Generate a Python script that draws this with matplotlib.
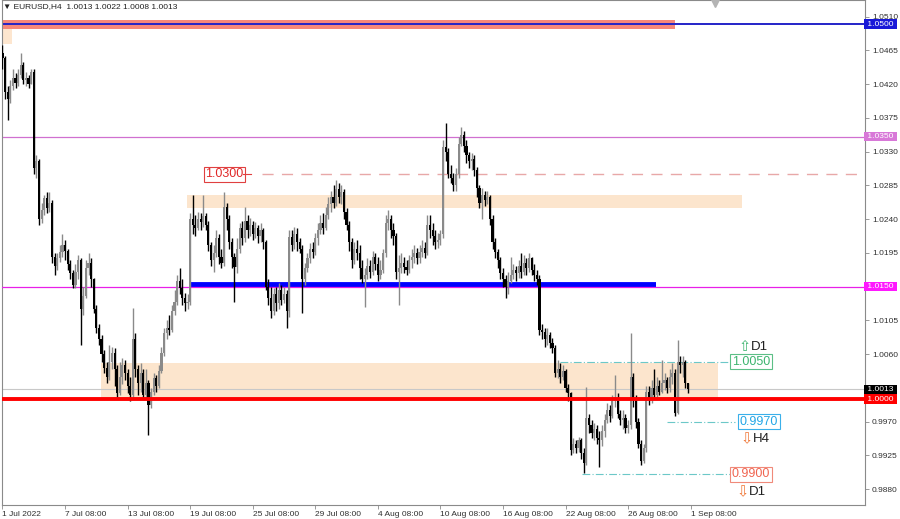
import numpy as np
import matplotlib
matplotlib.use("Agg")
import matplotlib.pyplot as plt
import matplotlib.transforms as mtransforms

plt.rcParams['font.family'] = ['Liberation Sans', 'DejaVu Sans']

# ---- data (EURUSD H4) ----
symbol_title = "EURUSD,H4  1.0013 1.0022 1.0008 1.0013"
first_open = 1.0462
closes = [
    1.0455, 1.0410, 1.0400, 1.0418, 1.0428, 1.0422, 1.0432, 1.0445, 1.0425, 1.0428, 1.0420, 1.0436,
    1.0308, 1.0318, 1.0240, 1.0252, 1.0268, 1.0255, 1.0262, 1.0190, 1.0178, 1.0188, 1.0196, 1.0206,
    1.0198, 1.0180, 1.0168, 1.0152, 1.0170, 1.0185, 1.0120, 1.0138, 1.0175, 1.0182, 1.0160, 1.0120,
    1.0095, 1.0080, 1.0060, 1.0042, 1.0030, 1.0050, 1.0062, 1.0040, 1.0008, 1.0030, 1.0045, 1.0035,
    1.0018, 1.0005, 1.0080, 1.0040, 1.0022, 1.0035, 1.0005, 1.0022, 0.9992, 1.0010, 1.0028, 1.0018,
    1.0038, 1.0062, 1.0088, 1.0095, 1.0092, 1.0118, 1.0130, 1.0158, 1.0148, 1.0135, 1.0128, 1.0130,
    1.0240, 1.0232, 1.0228, 1.0240, 1.0236, 1.0244, 1.0232, 1.0205, 1.0185, 1.0195, 1.0215, 1.0190,
    1.0182, 1.0256, 1.0240, 1.0210, 1.0190, 1.0176, 1.0200, 1.0228, 1.0215, 1.0238, 1.0225, 1.0232,
    1.0220, 1.0228, 1.0218, 1.0225, 1.0210, 1.0150, 1.0135, 1.0118, 1.0140, 1.0128, 1.0145, 1.0132,
    1.0140, 1.0118, 1.0216, 1.0205, 1.0220, 1.0210, 1.0200, 1.0160, 1.0175, 1.0188, 1.0200, 1.0196,
    1.0215, 1.0225, 1.0235, 1.0228, 1.0245, 1.0260, 1.0270, 1.0262, 1.0280, 1.0270, 1.0276, 1.0250,
    1.0232, 1.0210, 1.0185, 1.0200, 1.0195, 1.0175, 1.0160, 1.0165, 1.0178, 1.0170, 1.0190, 1.0180,
    1.0165, 1.0172, 1.0195, 1.0235, 1.0240, 1.0225, 1.0218, 1.0170, 1.0175, 1.0182, 1.0176, 1.0172,
    1.0185, 1.0190, 1.0195, 1.0188, 1.0196, 1.0202, 1.0195, 1.0232, 1.0225, 1.0218, 1.0210, 1.0212,
    1.0220, 1.0336, 1.0330, 1.0300, 1.0295, 1.0285, 1.0300, 1.0340, 1.0352, 1.0338, 1.0325, 1.0318,
    1.0320, 1.0305, 1.0282, 1.0262, 1.0272, 1.0265, 1.0270, 1.0240, 1.0210, 1.0196, 1.0185, 1.0168,
    1.0160, 1.0150, 1.0158, 1.0165, 1.0172, 1.0168, 1.0178, 1.0170, 1.0182, 1.0175, 1.0188, 1.0172,
    1.0165, 1.0160, 1.0092, 1.0090, 1.0080, 1.0085, 1.0075, 1.0068, 1.0035, 1.0040, 1.0030, 1.0038,
    1.0015, 1.0008, 0.9932, 0.9940, 0.9935, 0.9945, 0.9928, 0.9915, 0.9975, 0.9965, 0.9955, 0.9960,
    0.9948, 0.9945, 0.9958, 0.9972, 0.9985, 0.9978, 0.9998, 1.0002, 0.9980, 0.9972, 0.9975, 0.9962,
    0.9965, 1.0030, 1.0000, 0.9970, 0.9940, 0.9918, 0.9935, 1.0010, 1.0000, 1.0015, 1.0005, 1.0018,
    1.0010, 1.0022, 1.0025, 1.0015, 1.0030, 1.0035, 0.9982, 1.0050, 1.0045, 1.0050, 1.0022, 1.0013,
]
highs = [
    1.0472, 1.0458, 1.0418, 1.0425, 1.0440, 1.0435, 1.0440, 1.0462, 1.0450, 1.0436, 1.0432, 1.0440,
    1.0440, 1.0325, 1.0320, 1.0262, 1.0272, 1.0276, 1.0276, 1.0265, 1.0195, 1.0195, 1.0205, 1.0220,
    1.0212, 1.0200, 1.0185, 1.0172, 1.0180, 1.0192, 1.0188, 1.0150, 1.0185, 1.0195, 1.0188, 1.0162,
    1.0125, 1.0100, 1.0085, 1.0065, 1.0050, 1.0072, 1.0070, 1.0068, 1.0045, 1.0050, 1.0055, 1.0052,
    1.0040, 1.0030, 1.0121, 1.0088, 1.0045, 1.0048, 1.0040, 1.0040, 1.0025, 1.0015, 1.0035, 1.0032,
    1.0045, 1.0070, 1.0095, 1.0105, 1.0112, 1.0125, 1.0145, 1.0165, 1.0175, 1.0160, 1.0142, 1.0140,
    1.0248, 1.0272, 1.0245, 1.0250, 1.0248, 1.0272, 1.0248, 1.0238, 1.0210, 1.0205, 1.0225, 1.0220,
    1.0200, 1.0276, 1.0262, 1.0245, 1.0215, 1.0195, 1.0215, 1.0235, 1.0238, 1.0256, 1.0245, 1.0242,
    1.0238, 1.0236, 1.0232, 1.0235, 1.0228, 1.0212, 1.0160, 1.0150, 1.0148, 1.0150, 1.0155, 1.0152,
    1.0150, 1.0145, 1.0225, 1.0226, 1.0230, 1.0228, 1.0215, 1.0205, 1.0182, 1.0195, 1.0208, 1.0210,
    1.0222, 1.0235, 1.0245, 1.0248, 1.0256, 1.0270, 1.0278, 1.0285, 1.0292, 1.0288, 1.0285, 1.0280,
    1.0255, 1.0238, 1.0215, 1.0210, 1.0212, 1.0205, 1.0185, 1.0175, 1.0188, 1.0185, 1.0198, 1.0195,
    1.0190, 1.0185, 1.0200, 1.0245, 1.0252, 1.0245, 1.0235, 1.0222, 1.0192, 1.0195, 1.0190, 1.0186,
    1.0192, 1.0200, 1.0205, 1.0202, 1.0205, 1.0212, 1.0210, 1.0245, 1.0245, 1.0235, 1.0225, 1.0222,
    1.0225, 1.0345, 1.0368, 1.0335, 1.0312, 1.0302, 1.0308, 1.0350, 1.0363, 1.0358, 1.0345, 1.0330,
    1.0328, 1.0325, 1.0310, 1.0285, 1.0282, 1.0278, 1.0278, 1.0272, 1.0245, 1.0215, 1.0200, 1.0190,
    1.0175, 1.0165, 1.0170, 1.0190, 1.0180, 1.0178, 1.0185, 1.0195, 1.0192, 1.0188, 1.0195, 1.0190,
    1.0180, 1.0172, 1.0165, 1.0100, 1.0095, 1.0095, 1.0090, 1.0082, 1.0072, 1.0052, 1.0048, 1.0045,
    1.0040, 1.0020, 1.0010, 0.9948, 0.9945, 0.9950, 0.9948, 0.9935, 1.0016, 0.9980, 0.9972, 0.9968,
    0.9965, 0.9958, 0.9965, 0.9980, 0.9995, 0.9992, 1.0005, 1.0032, 1.0008, 0.9985, 0.9985, 0.9980,
    0.9972, 1.0088, 1.0035, 1.0005, 0.9975, 0.9945, 0.9940, 1.0018, 1.0018, 1.0025, 1.0040, 1.0030,
    1.0025, 1.0052, 1.0035, 1.0030, 1.0040, 1.0048, 1.0040, 1.0079, 1.0058, 1.0058, 1.0052, 1.0022,
]
lows = [
    1.0440, 1.0400, 1.0372, 1.0395, 1.0412, 1.0415, 1.0418, 1.0428, 1.0420, 1.0418, 1.0415, 1.0420,
    1.0300, 1.0295, 1.0232, 1.0235, 1.0245, 1.0248, 1.0250, 1.0182, 1.0165, 1.0172, 1.0183, 1.0190,
    1.0185, 1.0172, 1.0160, 1.0148, 1.0148, 1.0160, 1.0072, 1.0112, 1.0135, 1.0165, 1.0150, 1.0115,
    1.0088, 1.0072, 1.0050, 1.0035, 1.0022, 1.0025, 1.0040, 1.0018, 1.0000, 1.0005, 1.0020, 1.0025,
    1.0008, 0.9998, 1.0002, 1.0030, 1.0005, 1.0010, 1.0000, 1.0002, 0.9952, 0.9988, 1.0005, 1.0010,
    1.0015, 1.0035, 1.0058, 1.0080, 1.0085, 1.0090, 1.0112, 1.0125, 1.0140, 1.0125, 1.0118, 1.0120,
    1.0125, 1.0220, 1.0218, 1.0225, 1.0225, 1.0230, 1.0225, 1.0198, 1.0178, 1.0170, 1.0190, 1.0180,
    1.0175, 1.0178, 1.0225, 1.0200, 1.0175, 1.0130, 1.0168, 1.0195, 1.0205, 1.0210, 1.0215, 1.0218,
    1.0212, 1.0215, 1.0208, 1.0210, 1.0200, 1.0145, 1.0125, 1.0108, 1.0112, 1.0118, 1.0120, 1.0125,
    1.0128, 1.0095, 1.0110, 1.0198, 1.0200, 1.0198, 1.0195, 1.0115, 1.0152, 1.0170, 1.0182, 1.0188,
    1.0192, 1.0205, 1.0220, 1.0220, 1.0225, 1.0240, 1.0250, 1.0255, 1.0258, 1.0262, 1.0260, 1.0240,
    1.0225, 1.0198, 1.0175, 1.0180, 1.0185, 1.0160, 1.0155, 1.0123, 1.0160, 1.0162, 1.0165, 1.0172,
    1.0158, 1.0160, 1.0168, 1.0190, 1.0225, 1.0215, 1.0205, 1.0160, 1.0125, 1.0168, 1.0168, 1.0165,
    1.0168, 1.0175, 1.0182, 1.0180, 1.0182, 1.0190, 1.0188, 1.0192, 1.0215, 1.0205, 1.0200, 1.0202,
    1.0205, 1.0215, 1.0318, 1.0295, 1.0288, 1.0278, 1.0278, 1.0295, 1.0338, 1.0330, 1.0315, 1.0308,
    1.0305, 1.0298, 1.0270, 1.0255, 1.0240, 1.0258, 1.0260, 1.0232, 1.0200, 1.0188, 1.0175, 1.0160,
    1.0150, 1.0135, 1.0140, 1.0155, 1.0160, 1.0158, 1.0162, 1.0162, 1.0165, 1.0165, 1.0170, 1.0165,
    1.0158, 1.0152, 1.0085, 1.0080, 1.0070, 1.0072, 1.0068, 1.0062, 1.0030, 1.0028, 1.0022, 1.0025,
    1.0010, 0.9998, 0.9925, 0.9928, 0.9928, 0.9930, 0.9920, 0.9901, 0.9912, 0.9955, 0.9948, 0.9945,
    0.9940, 0.9909, 0.9938, 0.9950, 0.9968, 0.9970, 0.9975, 0.9990, 0.9975, 0.9965, 0.9960, 0.9955,
    0.9955, 0.9960, 0.9990, 0.9962, 0.9935, 0.9912, 0.9915, 0.9930, 0.9992, 0.9995, 1.0000, 1.0000,
    1.0005, 1.0008, 1.0012, 1.0008, 1.0010, 1.0020, 0.9978, 0.9980, 1.0035, 1.0030, 1.0015, 1.0008,
]

date_labels = ["1 Jul 2022", "7 Jul 08:00", "13 Jul 08:00", "19 Jul 08:00", "25 Jul 08:00",
               "29 Jul 08:00", "4 Aug 08:00", "10 Aug 08:00", "16 Aug 08:00", "22 Aug 08:00",
               "26 Aug 08:00", "1 Sep 08:00"]
date_label_bars = [0, 24, 48, 72, 96, 120, 144, 168, 192, 216, 240, 264]
price_ticks = [1.0510, 1.0465, 1.0420, 1.0375, 1.0330, 1.0285, 1.0240, 1.0195,
               1.0105, 1.0060, 0.9970, 0.9925, 0.9880]

# horizontal levels and their axis tags
level_tags = [(1.0500, "#1818d8"), (1.0350, "#d878d8"), (1.0150, "#ff18ff"),
              (1.0013, "#000000"), (1.0000, "#ff0000")]

# ---- figure ----
W, H = 900, 519
fig = plt.figure(figsize=(W / 100, H / 100), dpi=100)
ax = fig.add_axes([2 / W, 14 / H, 863 / W, 505 / H])

BAR_PX = 2.608


def px(x):
    """chart pixel column -> bar index"""
    return (x - 2) / BAR_PX


y_top = 1.05323
y_bot = y_top - 505 / 7497
ax.set_xlim(px(1.5), px(865))
ax.set_ylim(y_bot, y_top)

# zones / bands
ax.fill_between([px(2), px(675)], 1.0493, 1.0505, color="#f6877a", lw=0, zorder=1)
ax.fill_between([px(2), px(12)], 1.0473, 1.0493, color="#fde6cf", lw=0, zorder=1)
ax.fill_between([px(187), px(742)], 1.0255, 1.0272, color="#fce5cd", lw=0, zorder=1)
ax.fill_between([px(101), px(718)], 1.0000, 1.0048, color="#fce5cd", lw=0, zorder=1)

# level lines
ax.axhline(1.0500, color="#2424c8", lw=1.4, zorder=2)
ax.axhline(1.0350, color="#d070d0", lw=0.9, zorder=2)
ax.axhline(1.0150, color="#e820e8", lw=0.9, zorder=4)
ax.axhline(1.0013, color="#c8c8c8", lw=0.8, zorder=2)
ax.plot([px(190), px(656)], [1.01525, 1.01525], color="#0000ff", lw=4.2,
        solid_capstyle="butt", zorder=3)
ax.plot([px(262), px(865)], [1.0300, 1.0300], color="#e8a8a8", lw=1.0,
        dashes=(8, 6), zorder=2)

# candles
x = np.arange(len(closes))
c = np.array(closes)
o = np.array([first_open] + closes[:-1])
hi = np.maximum(np.array(highs), np.maximum(o, c))
lo = np.minimum(np.array(lows), np.minimum(o, c))
up = c >= o
for mask, col in ((up, "#8a8a8a"), (~up, "#000000")):
    ax.vlines(x[mask], lo[mask], hi[mask], color=col, lw=1.0, zorder=5)
    body = np.maximum(np.abs(c[mask] - o[mask]), 0.00008)
    ax.bar(x[mask], body, bottom=np.minimum(o[mask], c[mask]), width=0.82,
           color=col, lw=0, zorder=6)

# red round level on top
ax.axhline(1.0000, color="#ff0000", lw=2.8, zorder=7)

# target lines (dash-dot)
teal = "#6cc8c8"
for x0, x1, lvl in ((560, 728, 1.0050), (667, 735, 0.9970), (582, 730, 0.9900)):
    ax.plot([px(x0), px(x1)], [lvl, lvl], color=teal, lw=0.8, dashes=(7, 2, 1, 2), zorder=3)

# boxed price labels
box_font = 9
ax.text(px(224), 1.0300, "1.0300", color="#e02828", fontsize=box_font, ha="center", va="center",
        bbox=dict(boxstyle="square,pad=0.12", fc="white", ec="#e04040", lw=0.8), zorder=8)
ax.plot([px(243), px(251)], [1.0300, 1.0300], color="#e04040", lw=0.8, zorder=8)
ax.text(px(751), 1.0050, "1.0050", color="#3cb46e", fontsize=box_font, ha="center", va="center",
        bbox=dict(boxstyle="square,pad=0.12", fc="white", ec="#5cbf86", lw=0.8), zorder=8)
ax.text(px(759), 0.9970, "0.9970", color="#22a6e6", fontsize=box_font, ha="center", va="center",
        bbox=dict(boxstyle="square,pad=0.12", fc="white", ec="#3ab0ea", lw=0.8), zorder=8)
ax.text(px(751), 0.9900, "0.9900", color="#f06450", fontsize=box_font, ha="center", va="center",
        bbox=dict(boxstyle="square,pad=0.12", fc="white", ec="#f08a7a", lw=0.8), zorder=8)

# timeframe markers
arrow_fam = ["DejaVu Sans"]
for ax_px, y_px, arrow, acol, tf in ((745, 347, "\u21e7", "#3cb46e", "D1"),
                                     (747, 439, "\u21e9", "#f07838", "H4"),
                                     (743, 492, "\u21e9", "#f07838", "D1")):
    yv = y_top - y_px / 7497
    ax.text(px(ax_px), yv, arrow, color=acol, fontsize=10.5, ha="center", va="center",
            family=arrow_fam, zorder=8)
    ax.text(px(ax_px + 6), yv, tf, color="#202020", fontsize=9.5, ha="left", va="center", zorder=8)

# shift marker
ax.plot([px(715)], [y_top - 3 / 7497], marker="v", color="#b4b4b4", ms=6, clip_on=False, zorder=9)

# axes styling
for sp in ax.spines.values():
    sp.set_color("#8a8a8a")
    sp.set_linewidth(0.8)
ax.yaxis.tick_right()
ax.set_yticks(price_ticks)
ax.set_yticklabels([f"{v:.4f}" for v in price_ticks])
ax.tick_params(axis="y", labelsize=6, length=3, width=0.6, pad=2, colors="#8a8a8a",
               labelcolor="#303030")
ax.set_xticks(date_label_bars)
ax.set_xticklabels(date_labels)
ax.tick_params(axis="x", labelsize=6, length=3, width=0.6, pad=1.5, colors="#8a8a8a",
               labelcolor="#303030")
for lab in ax.get_xticklabels():
    lab.set_ha("left")

tag_tr = mtransforms.blended_transform_factory(ax.transAxes, ax.transData)
for lvl, col in level_tags:
    ax.text(1.0, lvl, f" {lvl:.4f} ", transform=tag_tr, color="white", fontsize=6,
            ha="left", va="center", clip_on=False,
            bbox=dict(boxstyle="square,pad=0.15", fc=col, ec="none"), zorder=10)

fig.text(3 / W, 1 - 7 / H, "\u25bc " + symbol_title, fontsize=6, color="#202020",
         ha="left", va="center")

fig.savefig("out.png", dpi=100)
